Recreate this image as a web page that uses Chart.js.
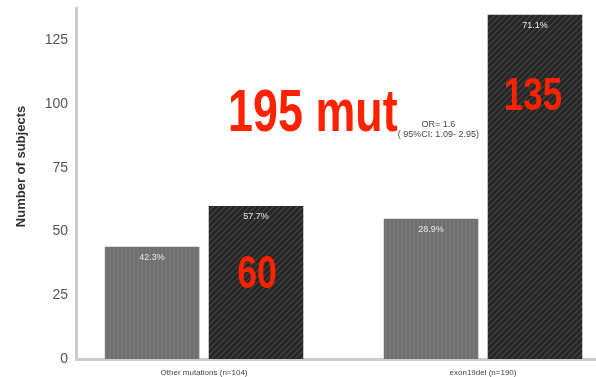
<!DOCTYPE html>
<html>
<head>
<meta charset="utf-8">
<script src="https://cdn.jsdelivr.net/npm/chart.js@4.4.0/dist/chart.umd.min.js"></script>
<style>
  body { margin: 0; background: #fff; }
  canvas { display: block; }
</style>
</head>
<body>
<canvas id="bar-chartcanvas" width="596" height="377"></canvas>
<script>
// groups on the x axis and where they sit on the linear scale
var groups = ["Other mutations (n=104)", "exon19del (n=190)"];
var groupPos = [0, 1];

// number of subjects per group
var seriesGrey = [44, 55];
var seriesDark = [60, 135];

// y axis ticks
var yTicks = [0, 25, 50, 75, 100, 125];
var yTitle = "Number of subjects";

// odds ratio note
var orLines = ["OR= 1.6", "( 95%CI: 1.09- 2.95)"];

Chart.defaults.font.family = "'Liberation Sans', Arial, sans-serif";

// striped fills for the bars
function stripes(bg, fg, size, diag) {
  var c = document.createElement("canvas");
  c.width = size;
  c.height = size;
  var g = c.getContext("2d");
  g.fillStyle = bg;
  g.fillRect(0, 0, size, size);
  g.strokeStyle = fg;
  g.lineWidth = 1.2;
  g.beginPath();
  if (diag) {
    g.moveTo(0, size); g.lineTo(size, 0);
    g.moveTo(-2, 2); g.lineTo(2, -2);
    g.moveTo(size - 2, size + 2); g.lineTo(size + 2, size - 2);
  } else {
    g.moveTo(size / 2, 0); g.lineTo(size / 2, size);
  }
  g.stroke();
  return g.createPattern(c, "repeat");
}

function points(vals) {
  return vals.map(function (v, i) { return { x: groupPos[i], y: v }; });
}

// percentage inside each bar, red counts, OR note and the y title
var notes = {
  id: "notes",
  afterDatasetsDraw: function (chart) {
    var ctx = chart.ctx;
    var xs = chart.scales.x, ys = chart.scales.y;
    var sets = chart.data.datasets;

    ctx.save();
    ctx.fillStyle = "#e8e8e8";
    ctx.font = "9px 'Liberation Sans', Arial, sans-serif";
    ctx.textAlign = "center";
    ctx.textBaseline = "middle";
    sets.forEach(function (ds, d) {
      chart.getDatasetMeta(d).data.forEach(function (bar, i) {
        var total = 0;
        sets.forEach(function (s) { total += s.data[i].y; });
        var pct = (ds.data[i].y / total * 100).toFixed(1) + "%";
        ctx.fillText(pct, bar.x, bar.y + 11);
      });
    });

    // y title, rotated, sitting a bit above the middle of the axis
    ctx.save();
    ctx.translate(21, ys.getPixelForValue(75.5));
    ctx.rotate(-Math.PI / 2);
    ctx.fillStyle = "#333";
    ctx.font = "bold 13px 'Liberation Sans', Arial, sans-serif";
    ctx.fillText(yTitle, 0, 0);
    ctx.restore();

    // OR note
    ctx.fillStyle = "#444";
    ctx.font = "9px 'Liberation Sans', Arial, sans-serif";
    ctx.textBaseline = "alphabetic";
    ctx.fillText(orLines[0], xs.getPixelForValue(0.84), ys.getPixelForValue(91));
    ctx.fillText(orLines[1], xs.getPixelForValue(0.84), ys.getPixelForValue(87));

    function big(text, x, y, size) {
      ctx.save();
      ctx.translate(x, y);
      ctx.scale(0.76, 1);
      ctx.fillStyle = "#ff2200";
      ctx.font = "bold " + size + "px 'Liberation Sans', Arial, sans-serif";
      ctx.textAlign = "center";
      ctx.textBaseline = "alphabetic";
      ctx.fillText(text, 0, 0);
      ctx.restore();
    }

    var darkMeta = chart.getDatasetMeta(1).data;
    var darkTotal = seriesDark.reduce(function (a, b) { return a + b; }, 0);
    big(darkTotal + " mut", xs.getPixelForValue(0.39), ys.getPixelForValue(89.5), 59);
    big(String(seriesDark[0]), darkMeta[0].x + 1, ys.getPixelForValue(28), 47);
    big(String(seriesDark[1]), darkMeta[1].x - 2, ys.getPixelForValue(97.5), 46);
    ctx.restore();
  }
};

var ctx1 = document.getElementById("bar-chartcanvas");

var chart1 = new Chart(ctx1, {
  type: "bar",
  data: {
    datasets: [
      {
        data: points(seriesGrey),
        backgroundColor: stripes("#6e6e6e", "#7e7e7e", 4, false)
      },
      {
        data: points(seriesDark),
        backgroundColor: stripes("#262626", "#474747", 6, true)
      }
    ]
  },
  options: {
    responsive: false,
    animation: false,
    categoryPercentage: 0.745,
    barPercentage: 0.91,
    layout: { padding: { top: 7, right: 0, left: 0, bottom: 0 } },
    plugins: {
      legend: { display: false },
      tooltip: { enabled: false }
    },
    scales: {
      x: {
        type: "linear",
        min: -0.459,
        max: 1.405,
        offset: false,
        bounds: "data",
        grid: { display: false, offset: false },
        border: { color: "#cccccc", width: 3 },
        afterBuildTicks: function (scale) {
          scale.ticks = groupPos.map(function (v) { return { value: v }; });
        },
        afterFit: function (scale) { scale.height = 18; },
        ticks: {
          color: "#444",
          font: { size: 8 },
          padding: 1,
          maxRotation: 0,
          callback: function (v) { return groups[groupPos.indexOf(v)]; }
        }
      },
      y: {
        min: 0,
        max: 137.5,
        grid: { display: false },
        border: { color: "#cccccc", width: 3 },
        afterBuildTicks: function (scale) {
          scale.ticks = yTicks.map(function (v) { return { value: v }; });
        },
        afterFit: function (scale) { scale.width = 76; },
        ticks: {
          color: "#555",
          font: { size: 14 },
          padding: 0
        }
      }
    }
  },
  plugins: [notes]
});
</script>
</body>
</html>
